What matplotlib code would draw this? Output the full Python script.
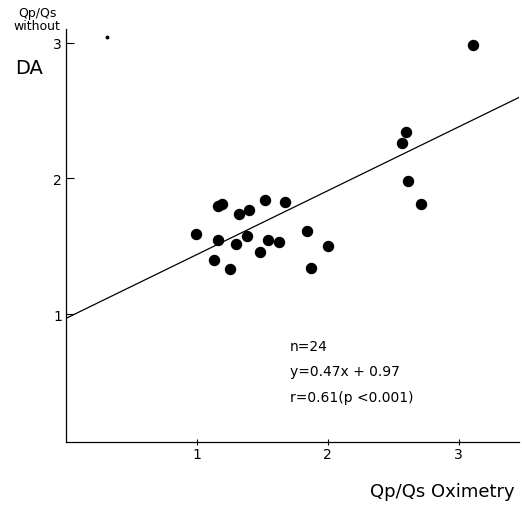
import numpy as np
import matplotlib.pyplot as plt

# Qp/Qs by oximetry vs Qp/Qs without DA
ox = [1.16, 1.19, 1.32, 1.40, 1.52, 1.67, 0.99, 1.16, 1.30, 1.38, 1.54, 1.63,
      1.48, 1.84, 2.00, 1.13, 1.25, 1.87, 3.11, 2.60, 2.57, 2.61, 2.71]
noda = [1.80, 1.81, 1.74, 1.77, 1.84, 1.83, 1.59, 1.55, 1.52, 1.58, 1.55, 1.53,
        1.46, 1.61, 1.50, 1.40, 1.33, 1.34, 2.98, 2.34, 2.26, 1.98, 1.81]
slope, icpt = 0.47, 0.97
xticks = [1, 2, 3]
yticks = [1, 2, 3]

fig = plt.figure(figsize=(5.22, 5.06), dpi=100)
ax = fig.add_axes([66/522, 63/506, 453/522, 413/506])
ax.set_xlim(0, 3.46)
ax.set_ylim(0.06, 3.1)

ax.scatter(ox, noda, s=52, color='black', zorder=3)
xl = np.array([0, 3.46])
ax.plot(xl, slope*xl + icpt, color='black', lw=0.9)
ax.plot([0.31], [3.04], marker='o', ms=1.8, color='black')  # stray speck

for s in ['top', 'right']:
    ax.spines[s].set_visible(False)
for s in ['left', 'bottom']:
    ax.spines[s].set_linewidth(0.9)
ax.set_xticks(xticks)
ax.set_yticks(yticks)
ax.set_xticklabels([str(t) for t in xticks], fontsize=10)
ax.set_yticklabels([str(t) for t in yticks], fontsize=10)
ax.tick_params(axis='x', direction='inout', length=5, width=0.8, pad=1)
ax.tick_params(axis='y', direction='in', length=6, width=0.8, pad=3)

fig.text(37/522, 1 - 20/506, 'Qp/Qs\nwithout', ha='center', va='center',
         fontsize=9, linespacing=1.1)
fig.text(15/522, 1 - 68/506, 'DA', ha='left', va='center', fontsize=14)
fig.text(515/522, 1 - 492/506, 'Qp/Qs Oximetry', ha='right', va='center',
         fontsize=13)

ax.text(1.71, 0.74, 'n=24', fontsize=10)
ax.text(1.71, 0.55, 'y=0.47x + 0.97', fontsize=10)
ax.text(1.71, 0.36, 'r=0.61(p <0.001)', fontsize=10)

fig.savefig('out.png', dpi=100)
